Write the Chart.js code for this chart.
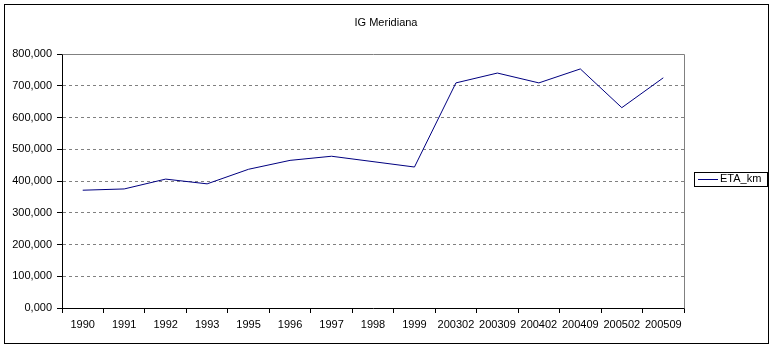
<!DOCTYPE html>
<html>
<head>
<meta charset="utf-8">
<title>IG Meridiana</title>
<script src="https://cdn.jsdelivr.net/npm/chart.js@4.4.1/dist/chart.umd.min.js"></script>
<style>
  html, body { margin: 0; padding: 0; background: #fff; }
  #wrap { width: 775px; height: 348px; }
</style>
</head>
<body>
<div id="wrap"><canvas id="chart" width="775" height="348"></canvas></div>
<script>
let chartTitle = "IG Meridiana";
let seriesName = "ETA_km";

let periods = ["1990", "1991", "1992", "1993", "1995", "1996", "1997", "1998", "1999",
               "200302", "200309", "200402", "200409", "200502", "200509"];
let etaKm = [371000, 375000, 406000, 391000, 437000, 465000, 478000, 461000, 444000,
             709000, 740000, 709000, 753000, 631000, 725000];

let yTickLabels = ["0,000", "100,000", "200,000", "300,000", "400,000",
                   "500,000", "600,000", "700,000", "800,000"];

Chart.defaults.font.family = "'Liberation Sans', Arial, sans-serif";
Chart.defaults.font.size = 11;
Chart.defaults.color = "#000";

// outer frame, plot border, title and boxed legend
let decor = {
    id: "decor",
    beforeDraw(chart) {
        let ctx = chart.ctx;
        ctx.save();
        ctx.fillStyle = "#fff";
        ctx.fillRect(0, 0, chart.width, chart.height);
        ctx.restore();
    },
    afterDraw(chart) {
        let ctx = chart.ctx;
        let a = chart.chartArea;
        ctx.save();

        // plot area border (top + right), grey
        ctx.strokeStyle = "#808080";
        ctx.lineWidth = 1;
        ctx.beginPath();
        ctx.moveTo(Math.round(a.left) + 0.5, Math.round(a.top) + 0.5);
        ctx.lineTo(Math.round(a.right) + 0.5, Math.round(a.top) + 0.5);
        ctx.lineTo(Math.round(a.right) + 0.5, Math.round(a.bottom) + 0.5);
        ctx.stroke();

        // frame around the whole chart
        ctx.strokeStyle = "#000";
        ctx.strokeRect(4.5, 4.5, 764, 339);

        // title
        ctx.fillStyle = "#000";
        ctx.font = "11px 'Liberation Sans', Arial, sans-serif";
        ctx.textAlign = "center";
        ctx.textBaseline = "alphabetic";
        ctx.fillText(chartTitle, 386, 26);

        // legend
        let ds = chart.data.datasets[0];
        let lx = Math.round(a.right) + 10;
        let cy = Math.round((a.top + a.bottom) / 2);
        ctx.strokeStyle = "#000";
        ctx.strokeRect(lx + 0.5, cy - 9 + 0.5, 73, 14);
        ctx.strokeStyle = ds.borderColor;
        ctx.beginPath();
        ctx.moveTo(lx + 4, cy - 2 + 0.5);
        ctx.lineTo(lx + 24, cy - 2 + 0.5);
        ctx.stroke();
        ctx.textAlign = "left";
        ctx.textBaseline = "middle";
        ctx.fillText(ds.label, lx + 26, cy - 2);

        ctx.restore();
    }
};

new Chart(document.getElementById("chart"), {
    type: "line",
    data: {
        labels: periods,
        datasets: [{
            label: seriesName,
            data: etaKm,
            borderColor: "#000080",
            backgroundColor: "#000080",
            borderWidth: 1,
            pointRadius: 0,
            tension: 0,
            fill: false
        }]
    },
    options: {
        responsive: false,
        devicePixelRatio: 1,
        animation: false,
        layout: { padding: { left: 6, top: 54, right: 91, bottom: 0 } },
        plugins: {
            legend: { display: false },
            title: { display: false },
            tooltip: { enabled: false }
        },
        scales: {
            x: {
                type: "category",
                offset: true,
                grid: {
                    offset: true,
                    drawOnChartArea: false,
                    tickLength: 5,
                    tickColor: "#000"
                },
                border: { color: "#000", width: 1 },
                ticks: { padding: 5, maxRotation: 0, autoSkip: false, color: "#000" },
                afterFit(scale) { scale.height = 40; }
            },
            y: {
                min: 0,
                max: 800000,
                ticks: {
                    stepSize: 100000,
                    padding: 5,
                    color: "#000",
                    callback: (v) => yTickLabels[Math.round(v / 100000)]
                },
                grid: {
                    color: "#808080",
                    tickColor: "#000",
                    tickLength: 5,
                    tickBorderDash: []
                },
                border: { color: "#000", width: 1, dash: [3, 3] },
                afterFit(scale) { scale.width = 56; }
            }
        }
    },
    plugins: [decor]
});
</script>
</body>
</html>
